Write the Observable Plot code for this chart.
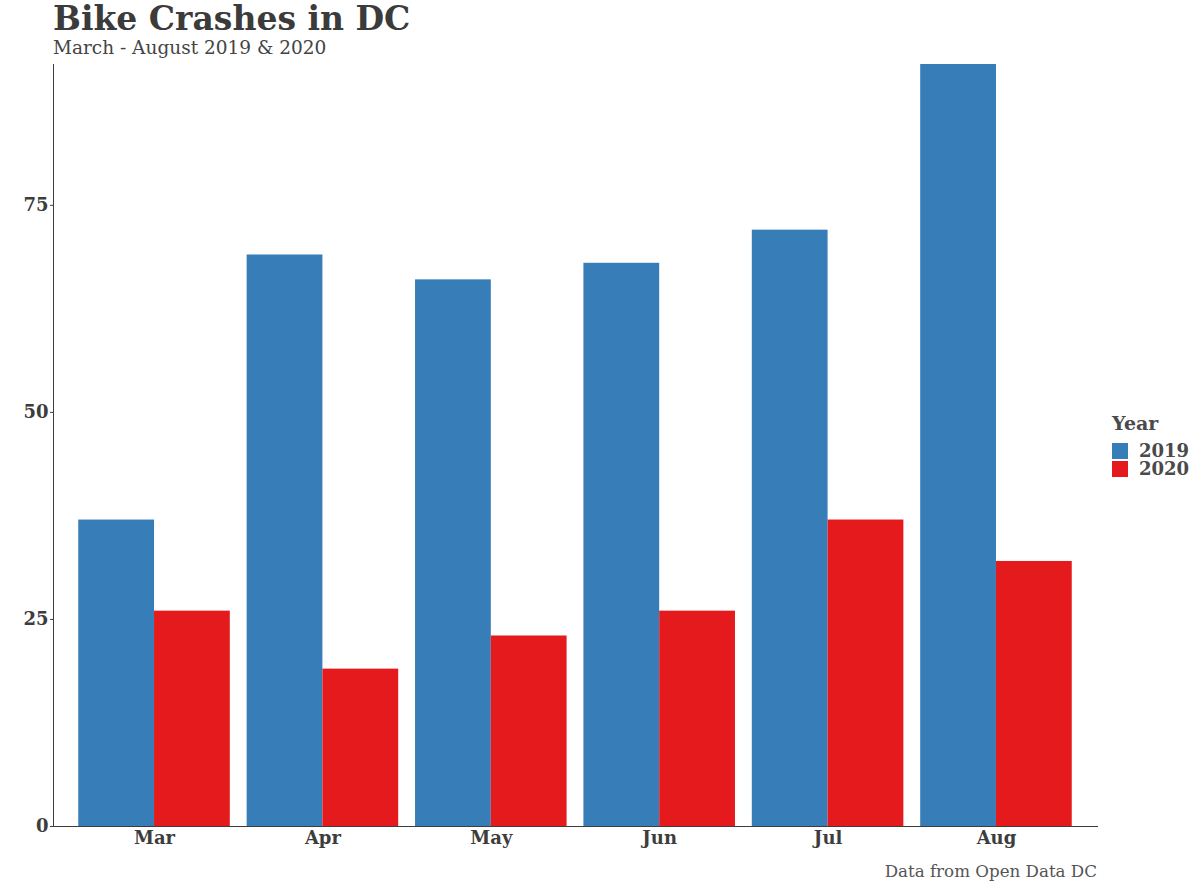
<!DOCTYPE html>
<html><head><meta charset="utf-8">
<script src="https://cdn.jsdelivr.net/npm/d3@7"></script>
<script src="https://cdn.jsdelivr.net/npm/@observablehq/plot@0.6"></script>
<style>
body{margin:0;background:#fff;font-family:"DejaVu Serif",serif;}
#wrap{position:relative;width:1200px;height:887px;overflow:hidden;}
#title{position:absolute;left:53px;top:2px;font-size:33px;line-height:33px;font-weight:bold;color:#3b3b3b;white-space:nowrap;}
#subtitle{position:absolute;left:53px;top:37px;font-size:18.5px;line-height:22px;color:#444;white-space:nowrap;}
#chart{position:absolute;left:0;top:62px;}
#caption{position:absolute;right:103px;top:861px;font-size:16.7px;line-height:20px;color:#555;white-space:nowrap;}
#legend{position:absolute;left:1112px;top:411px;color:#4a4a4a;}
#legend .lt{font-size:19px;font-weight:bold;line-height:24px;margin-bottom:7px;}
#legend .row{display:flex;align-items:center;height:18px;line-height:18px;font-size:18px;font-weight:bold;}
#legend .sw{width:16px;height:16px;margin-right:11px;}
</style></head><body>
<div id="wrap">
  <div id="title">Bike Crashes in DC</div>
  <div id="subtitle">March - August 2019 &amp; 2020</div>
  <div id="chart"></div>
  <div id="legend"></div>
  <div id="caption">Data from Open Data DC</div>
</div>
<script>
const months = ["Mar","Apr","May","Jun","Jul","Aug"];
const crashes2019 = [37,69,66,68,72,92];
const crashes2020 = [26,19,23,26,37,32];
const years = ["2019","2020"];
const yTicks = [0,25,50,75];
const yearColors = ["#377EB8","#E41A1C"];

const data = months.flatMap((m,i)=>[
  {month:m, year:years[0], count:crashes2019[i]},
  {month:m, year:years[1], count:crashes2020[i]}
]);

const W = 1200, H = 793, ML = 53, MR = 103, MT = 2, MB = 29;
const pInner = 0.1, pOuter = 0.15;
const step = (W-ML-MR)/(months.length - pInner + 2*pOuter);
const half = step*(1-pInner)/2;

const plot = Plot.plot({
  width: W, height: H,
  marginLeft: ML, marginRight: MR, marginTop: MT, marginBottom: MB,
  style: {fontFamily:"DejaVu Serif", fontSize:"18px", fontWeight:"bold", color:"#3d3d3d", background:"#fff"},
  x: {domain: months, paddingInner: pInner, paddingOuter: pOuter, round: false, label: null, tickSize: 0, tickPadding: 5, line: true},
  y: {domain: [0, 92], ticks: yTicks, tickSize: 3, tickPadding: 2, label: null, line: true},
  color: {domain: years, range: yearColors},
  marks: [
    Plot.barY(data.filter(d=>d.year===years[0]), {x:"month", y:"count", fill:"year", insetLeft:0, insetRight:half}),
    Plot.barY(data.filter(d=>d.year===years[1]), {x:"month", y:"count", fill:"year", insetLeft:half, insetRight:0})
  ]
});
document.getElementById("chart").appendChild(plot);

const lg = document.getElementById("legend");
lg.innerHTML = '<div class="lt">Year</div>' + years.map((y,i)=>
  `<div class="row"><div class="sw" style="background:${yearColors[i]}"></div>${y}</div>`).join("");
</script>
</body></html>
